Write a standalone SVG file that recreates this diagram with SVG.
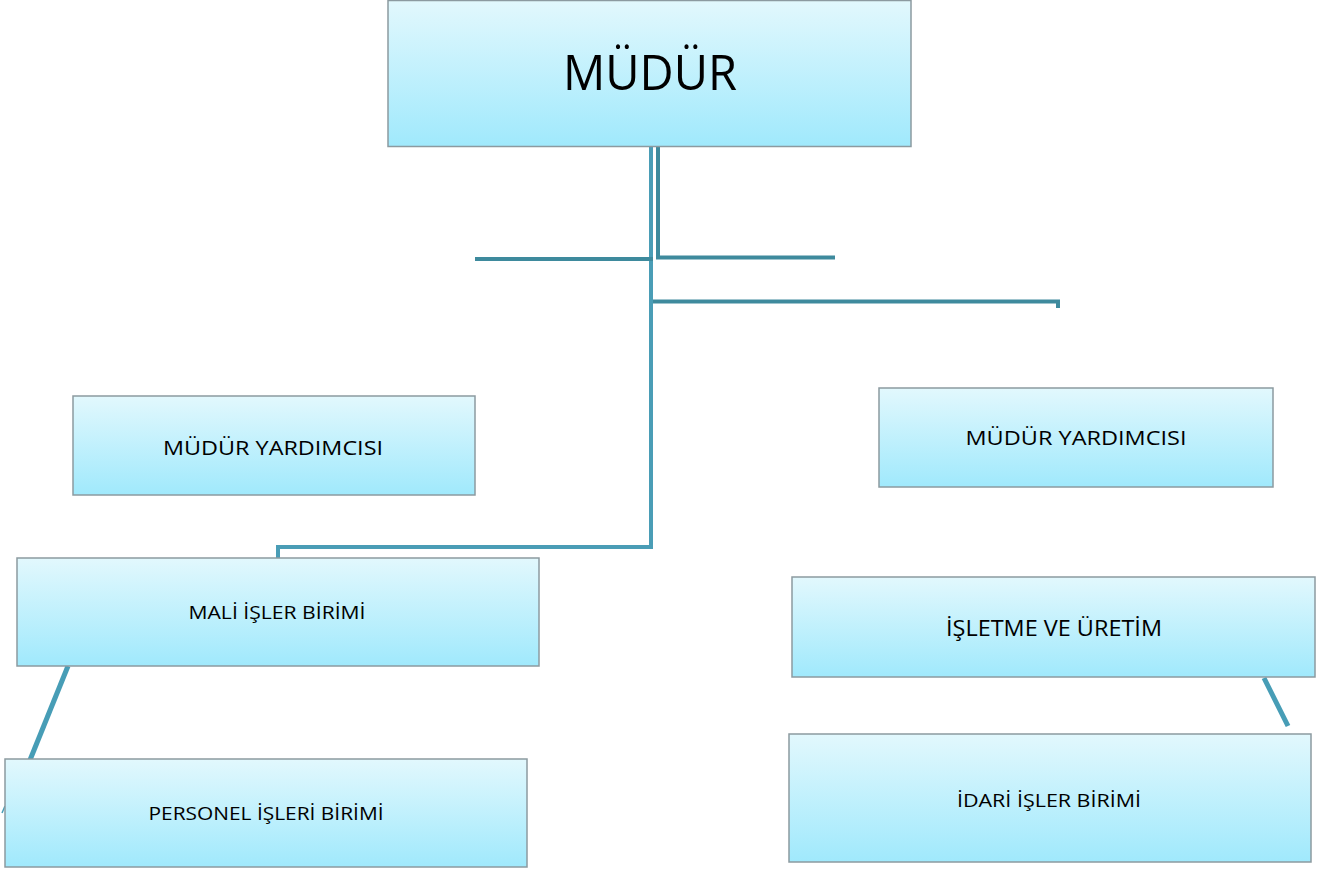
<svg xmlns="http://www.w3.org/2000/svg" width="1333" height="870" viewBox="0 0 1333 870">
<defs>
<linearGradient id="g" x1="0" y1="0" x2="0" y2="1">
<stop offset="0" stop-color="#e2f8fd"/>
<stop offset="1" stop-color="#a0e9fc"/>
</linearGradient>
</defs>
<style>
.box{fill:url(#g);stroke:#8c9aa0;stroke-width:1.5}
.t{font-family:"Open Sans","Noto Sans",sans-serif;fill:#000;text-anchor:middle}
.c{fill:none;stroke:#3e8a9d;stroke-width:4}
.v{fill:none;stroke:#4a9db6;stroke-width:4}
.d{fill:none;stroke:#479db6;stroke-width:5}
</style>
<rect width="1333" height="870" fill="#fff"/>
<g id="connectors">
<line class="v" x1="651" y1="147" x2="651" y2="549"/>
<line class="c" x1="658" y1="147" x2="658" y2="258"/>
<line class="c" x1="475" y1="259" x2="653" y2="259"/>
<line class="c" x1="656" y1="257.5" x2="835" y2="257.5"/>
<polyline class="c" points="653,301.5 1058,301.5 1058,308"/>
<polyline class="v" points="651,547 278,547 278,558"/>
<line class="d" x1="68" y1="666" x2="30" y2="760"/>
<line class="d" x1="1264" y1="678" x2="1288" y2="726"/>
<line stroke="#479db6" stroke-width="1.5" x1="2" y1="813" x2="5" y2="806"/>
</g>
<g id="mudur">
<rect class="box" x="388" y="0.5" width="523" height="146"/>
<text class="t" x="650" y="90" font-size="50" textLength="174" lengthAdjust="spacingAndGlyphs">MÜDÜR</text>
</g>
<g id="yardimci-sol">
<rect class="box" x="73" y="396" width="402" height="99"/>
<text class="t" x="273" y="455" font-size="20" textLength="220" lengthAdjust="spacingAndGlyphs">MÜDÜR YARDIMCISI</text>
</g>
<g id="yardimci-sag">
<rect class="box" x="879" y="388" width="394" height="99"/>
<text class="t" x="1076" y="445" font-size="20" textLength="221" lengthAdjust="spacingAndGlyphs">MÜDÜR YARDIMCISI</text>
</g>
<g id="mali">
<rect class="box" x="17" y="558" width="522" height="108"/>
<text class="t" x="277" y="619" font-size="19" textLength="177" lengthAdjust="spacingAndGlyphs">MALİ İŞLER BİRİMİ</text>
</g>
<g id="isletme">
<rect class="box" x="792" y="577" width="523" height="100"/>
<text class="t" x="1054" y="636" font-size="21" textLength="216" lengthAdjust="spacingAndGlyphs">İŞLETME VE ÜRETİM</text>
</g>
<g id="personel">
<rect class="box" x="5" y="759" width="522" height="108"/>
<text class="t" x="266" y="820" font-size="19" textLength="235" lengthAdjust="spacingAndGlyphs">PERSONEL İŞLERİ BİRİMİ</text>
</g>
<g id="idari">
<rect class="box" x="789" y="734" width="522" height="128"/>
<text class="t" x="1049" y="807" font-size="19" textLength="184" lengthAdjust="spacingAndGlyphs">İDARİ İŞLER BİRİMİ</text>
</g>
</svg>
